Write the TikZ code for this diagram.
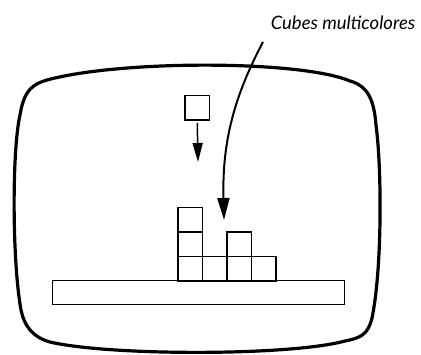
\documentclass[tikz,border=0pt]{standalone}
\usepackage{fontspec}
\setmainfont{Lato}
\usetikzlibrary{arrows.meta}
\begin{document}
\begin{tikzpicture}[x=1pt,y=-1pt,
  cube/.style={draw,line width=1.3pt,minimum width=24.5pt,minimum height=24.5pt,inner sep=0pt,outer sep=0pt},
  screen/.style={line width=3.2pt},
  label/.style={font=\itshape\fontsize{18.5}{22}\selectfont,inner sep=0pt}]
\useasboundingbox (0,0) rectangle (421,354);
% screen outline
\draw[screen] (47,80) .. controls (120,60) and (300,60) .. (350,81)
  .. controls (368,86) and (374,100) .. (376,125)
  .. controls (382,170) and (382,270) .. (372,318)
  .. controls (368,335) and (360,338) .. (345,341)
  .. controls (290,356) and (110,356) .. (50,342)
  .. controls (32,337) and (24,325) .. (21,310)
  .. controls (12,260) and (12,150) .. (20,115)
  .. controls (24,90) and (33,84) .. (47,80) -- cycle;
% platform
\node[draw,line width=1.3pt,minimum width=292pt,minimum height=24pt,inner sep=0pt,anchor=north west] (platform) at (52,280) {};
% cubes
\node[cube,anchor=north west] (c11) at (178,256.5) {};
\node[cube,anchor=north west] (c21) at (202.5,256.5) {};
\node[cube,anchor=north west] (c31) at (227,256.5) {};
\node[cube,anchor=north west] (c41) at (251.5,256.5) {};
\node[cube,anchor=north west] (c12) at (178,232) {};
\node[cube,anchor=north west] (c13) at (178,207.5) {};
\node[cube,anchor=north west] (c32) at (227,232) {};
% falling cube
\node[cube,anchor=north west] (fall) at (185,95.5) {};
\coordinate (falltip) at (198,162);
\draw[line width=1.5pt,-{Triangle[length=19pt,width=10pt]}] ([yshift=-3pt]fall.south) -- (falltip);
% label and curved arrow
\node[label] (lab) at (343,23) {Cubes multicolores};
\coordinate (bigtip) at (224,220);
\coordinate (bigstart) at (263,42);
\draw[line width=2pt,-{Triangle[length=22pt,width=12pt]}] (bigstart) .. controls (235,95) and (222,140) .. (bigtip);
\end{tikzpicture}
\end{document}
